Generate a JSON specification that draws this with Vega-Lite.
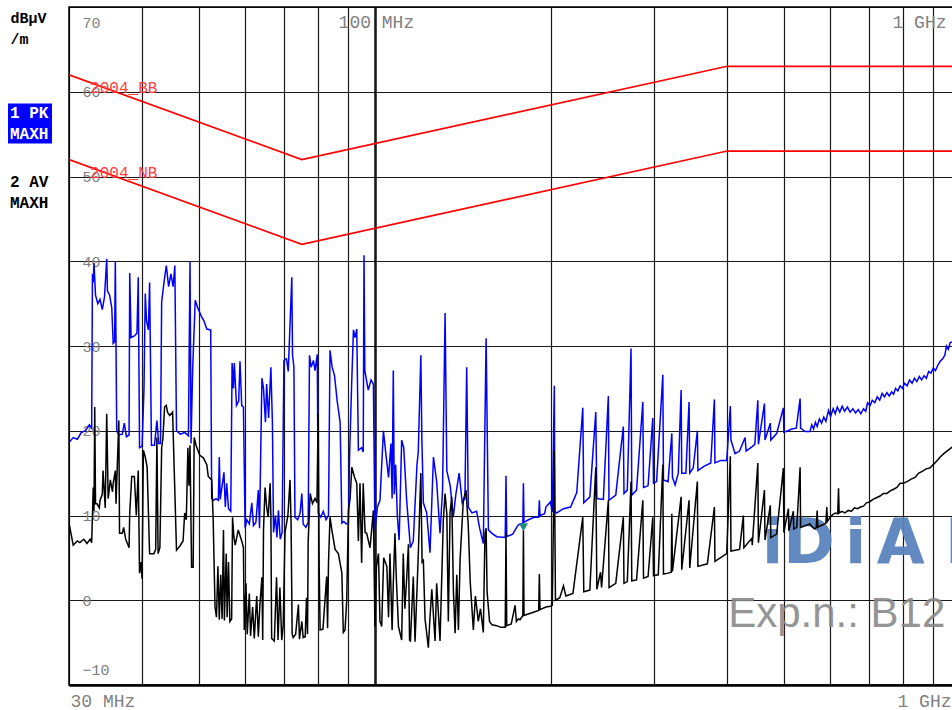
{
  "$schema": "https://vega.github.io/schema/vega-lite/v6.json",
  "width": 891,
  "height": 678,
  "autosize": {"type": "none"},
  "padding": {"left": 69, "top": 7, "right": 0, "bottom": 25},
  "background": "white",
  "config": {"view": {"stroke": "#000000", "strokeWidth": 1.5}},
  "datasets": {
    "limits": [
      {"f": 30, "v": 62, "limit": "BB"}, {"f": 75, "v": 52, "limit": "BB"}, {"f": 400, "v": 63, "limit": "BB"}, {"f": 1000, "v": 63, "limit": "BB"},
      {"f": 30, "v": 52, "limit": "NB"}, {"f": 75, "v": 42, "limit": "NB"}, {"f": 400, "v": 53, "limit": "NB"}, {"f": 1000, "v": 53, "limit": "NB"}
    ],
    "limitLabels": [
      {"f": 32.6, "v": 60, "label": "2004_BB"},
      {"f": 32.6, "v": 50, "label": "2004_NB"}
    ],
    "marker": [{"f": 179.4, "v": 8.6}],
    "logo": [{"f": 458.8, "v": 4.4, "label": "iD\u2006i\u2006A\u2004DA"}],
    "exp": [{"f": 401.5, "v": -3.2, "label": "Exp.n.: B12"}],
    "traces": [
      {"f":30,"v":18.6,"trace":"PK"},{"f":30.5,"v":19.2,"trace":"PK"},{"f":31,"v":19.0,"trace":"PK"},{"f":31.5,"v":19.8,"trace":"PK"},{"f":32,"v":20.0,"trace":"PK"},{"f":32.5,"v":20.7,"trace":"PK"},{"f":32.8,"v":20.3,"trace":"PK"},{"f":32.9,"v":38.5,"trace":"PK"},{"f":33,"v":37.5,"trace":"PK"},{"f":33.1,"v":39.8,"trace":"PK"},{"f":33.3,"v":36.0,"trace":"PK"},{"f":33.6,"v":35.0,"trace":"PK"},{"f":33.9,"v":35.5,"trace":"PK"},{"f":34.2,"v":34.3,"trace":"PK"},{"f":34.5,"v":35.8,"trace":"PK"},{"f":34.8,"v":40.3,"trace":"PK"},{"f":34.9,"v":36.5,"trace":"PK"},{"f":35.2,"v":36.0,"trace":"PK"},{"f":35.5,"v":34.5,"trace":"PK"},{"f":35.7,"v":30.3,"trace":"PK"},{"f":35.9,"v":30.5,"trace":"PK"},{"f":36,"v":40.0,"trace":"PK"},{"f":36.2,"v":20.0,"trace":"PK"},{"f":36.5,"v":19.5,"trace":"PK"},{"f":37,"v":19.6,"trace":"PK"},{"f":37.3,"v":20.9,"trace":"PK"},{"f":37.6,"v":19.3,"trace":"PK"},{"f":38,"v":19.5,"trace":"PK"},{"f":38.1,"v":38.6,"trace":"PK"},{"f":38.3,"v":31.0,"trace":"PK"},{"f":38.8,"v":31.2,"trace":"PK"},{"f":39.2,"v":31.5,"trace":"PK"},{"f":39.4,"v":38.1,"trace":"PK"},{"f":39.6,"v":18.0,"trace":"PK"},{"f":40,"v":18.2,"trace":"PK"},{"f":40.3,"v":25.0,"trace":"PK"},{"f":40.5,"v":36.2,"trace":"PK"},{"f":40.7,"v":33.0,"trace":"PK"},{"f":41,"v":31.9,"trace":"PK"},{"f":41.2,"v":37.5,"trace":"PK"},{"f":41.5,"v":18.3,"trace":"PK"},{"f":42,"v":18.3,"trace":"PK"},{"f":42.4,"v":21.2,"trace":"PK"},{"f":42.7,"v":18.5,"trace":"PK"},{"f":43,"v":18.5,"trace":"PK"},{"f":43.2,"v":35.2,"trace":"PK"},{"f":43.6,"v":37.5,"trace":"PK"},{"f":44,"v":39.5,"trace":"PK"},{"f":44.4,"v":37.0,"trace":"PK"},{"f":44.8,"v":38.5,"trace":"PK"},{"f":45.2,"v":37.0,"trace":"PK"},{"f":45.5,"v":39.5,"trace":"PK"},{"f":45.8,"v":20.0,"trace":"PK"},{"f":46.5,"v":19.6,"trace":"PK"},{"f":47.3,"v":19.8,"trace":"PK"},{"f":48,"v":19.4,"trace":"PK"},{"f":48.3,"v":40.0,"trace":"PK"},{"f":48.5,"v":18.5,"trace":"PK"},{"f":48.8,"v":27.1,"trace":"PK"},{"f":49.3,"v":35.4,"trace":"PK"},{"f":49.8,"v":34.5,"trace":"PK"},{"f":50.5,"v":33.5,"trace":"PK"},{"f":51,"v":33.0,"trace":"PK"},{"f":51.6,"v":32.0,"trace":"PK"},{"f":52.4,"v":31.9,"trace":"PK"},{"f":52.6,"v":12.0,"trace":"PK"},{"f":53,"v":11.8,"trace":"PK"},{"f":53.5,"v":12.0,"trace":"PK"},{"f":54,"v":11.8,"trace":"PK"},{"f":54.2,"v":16.9,"trace":"PK"},{"f":54.4,"v":11.9,"trace":"PK"},{"f":55.2,"v":15.1,"trace":"PK"},{"f":55.5,"v":11.0,"trace":"PK"},{"f":55.8,"v":13.8,"trace":"PK"},{"f":56.2,"v":10.8,"trace":"PK"},{"f":56.7,"v":10.5,"trace":"PK"},{"f":57,"v":28.0,"trace":"PK"},{"f":57.3,"v":25.0,"trace":"PK"},{"f":57.5,"v":28.0,"trace":"PK"},{"f":58,"v":23.0,"trace":"PK"},{"f":58.5,"v":23.5,"trace":"PK"},{"f":58.8,"v":28.2,"trace":"PK"},{"f":59.2,"v":23.0,"trace":"PK"},{"f":59.6,"v":22.8,"trace":"PK"},{"f":60,"v":8.5,"trace":"PK"},{"f":60.4,"v":9.5,"trace":"PK"},{"f":61,"v":9.0,"trace":"PK"},{"f":61.6,"v":11.5,"trace":"PK"},{"f":62,"v":8.8,"trace":"PK"},{"f":62.6,"v":9.2,"trace":"PK"},{"f":63.2,"v":13.0,"trace":"PK"},{"f":63.5,"v":8.5,"trace":"PK"},{"f":64.1,"v":26.2,"trace":"PK"},{"f":64.5,"v":25.0,"trace":"PK"},{"f":65,"v":21.0,"trace":"PK"},{"f":65.3,"v":25.5,"trace":"PK"},{"f":65.8,"v":21.5,"trace":"PK"},{"f":66.4,"v":27.5,"trace":"PK"},{"f":66.8,"v":21.0,"trace":"PK"},{"f":67.1,"v":8.0,"trace":"PK"},{"f":67.6,"v":10.0,"trace":"PK"},{"f":68,"v":7.4,"trace":"PK"},{"f":68.4,"v":10.6,"trace":"PK"},{"f":68.9,"v":7.2,"trace":"PK"},{"f":69.4,"v":8.0,"trace":"PK"},{"f":69.9,"v":28.3,"trace":"PK"},{"f":70.6,"v":28.5,"trace":"PK"},{"f":71.1,"v":27.0,"trace":"PK"},{"f":72.1,"v":38.1,"trace":"PK"},{"f":72.3,"v":29.0,"trace":"PK"},{"f":72.7,"v":27.5,"trace":"PK"},{"f":73,"v":9.8,"trace":"PK"},{"f":73.8,"v":9.5,"trace":"PK"},{"f":74.5,"v":10.3,"trace":"PK"},{"f":75,"v":12.6,"trace":"PK"},{"f":75.4,"v":9.0,"trace":"PK"},{"f":76.2,"v":8.6,"trace":"PK"},{"f":76.9,"v":9.2,"trace":"PK"},{"f":77.3,"v":28.9,"trace":"PK"},{"f":77.8,"v":27.5,"trace":"PK"},{"f":78.5,"v":28.3,"trace":"PK"},{"f":79,"v":27.1,"trace":"PK"},{"f":79.7,"v":29.0,"trace":"PK"},{"f":80,"v":10.3,"trace":"PK"},{"f":80.8,"v":9.8,"trace":"PK"},{"f":81.6,"v":10.5,"trace":"PK"},{"f":82.5,"v":9.5,"trace":"PK"},{"f":83.3,"v":10.0,"trace":"PK"},{"f":83.8,"v":29.5,"trace":"PK"},{"f":84.5,"v":27.5,"trace":"PK"},{"f":85.3,"v":26.5,"trace":"PK"},{"f":86.2,"v":23.5,"trace":"PK"},{"f":87.2,"v":21.0,"trace":"PK"},{"f":87.8,"v":9.1,"trace":"PK"},{"f":88.5,"v":9.3,"trace":"PK"},{"f":89.3,"v":9.0,"trace":"PK"},{"f":90.1,"v":9.1,"trace":"PK"},{"f":90.5,"v":16.9,"trace":"PK"},{"f":91.2,"v":25.0,"trace":"PK"},{"f":91.9,"v":31.9,"trace":"PK"},{"f":92.5,"v":31.0,"trace":"PK"},{"f":93.1,"v":32.0,"trace":"PK"},{"f":93.7,"v":17.7,"trace":"PK"},{"f":94.9,"v":18.0,"trace":"PK"},{"f":95.5,"v":17.5,"trace":"PK"},{"f":95.8,"v":40.7,"trace":"PK"},{"f":96.1,"v":27.1,"trace":"PK"},{"f":97.4,"v":24.8,"trace":"PK"},{"f":98.5,"v":26.0,"trace":"PK"},{"f":99.4,"v":25.5,"trace":"PK"},
      {"f":100,"v":8.3,"trace":"PK"},{"f":101,"v":11.0,"trace":"PK"},{"f":102,"v":11.8,"trace":"PK"},{"f":103.4,"v":20.0,"trace":"PK"},{"f":104.5,"v":17.0,"trace":"PK"},{"f":105.5,"v":14.5,"trace":"PK"},{"f":106.5,"v":18.5,"trace":"PK"},{"f":107,"v":12.0,"trace":"PK"},{"f":107.5,"v":27.1,"trace":"PK"},{"f":107.9,"v":12.5,"trace":"PK"},{"f":108.5,"v":16.0,"trace":"PK"},{"f":109.2,"v":10.0,"trace":"PK"},{"f":110,"v":7.1,"trace":"PK"},{"f":111.1,"v":18.9,"trace":"PK"},{"f":112,"v":18.0,"trace":"PK"},{"f":113.3,"v":11.8,"trace":"PK"},{"f":115,"v":6.2,"trace":"PK"},{"f":116.3,"v":7.0,"trace":"PK"},{"f":118,"v":16.0,"trace":"PK"},{"f":118.6,"v":17.5,"trace":"PK"},{"f":119.8,"v":28.9,"trace":"PK"},{"f":120.3,"v":19.0,"trace":"PK"},{"f":121,"v":11.5,"trace":"PK"},{"f":122.6,"v":10.3,"trace":"PK"},{"f":124.2,"v":5.6,"trace":"PK"},{"f":125.9,"v":16.9,"trace":"PK"},{"f":127.5,"v":14.0,"trace":"PK"},{"f":129.2,"v":7.9,"trace":"PK"},{"f":130.5,"v":13.0,"trace":"PK"},{"f":131.8,"v":33.9,"trace":"PK"},{"f":132.7,"v":15.3,"trace":"PK"},{"f":134.5,"v":13.5,"trace":"PK"},{"f":136.1,"v":9.8,"trace":"PK"},{"f":137.5,"v":12.5,"trace":"PK"},{"f":139.3,"v":15.0,"trace":"PK"},{"f":141,"v":11.5,"trace":"PK"},{"f":142.5,"v":12.0,"trace":"PK"},{"f":143.5,"v":27.5,"trace":"PK"},{"f":144.4,"v":11.0,"trace":"PK"},{"f":146.5,"v":10.3,"trace":"PK"},{"f":149.2,"v":10.5,"trace":"PK"},{"f":151,"v":8.5,"trace":"PK"},{"f":153.2,"v":6.7,"trace":"PK"},{"f":154.9,"v":30.9,"trace":"PK"},{"f":156.3,"v":8.3,"trace":"PK"},{"f":158.5,"v":7.9,"trace":"PK"},{"f":161.5,"v":7.5,"trace":"PK"},{"f":167,"v":7.4,"trace":"PK"},{"f":167.5,"v":14.7,"trace":"PK"},{"f":168,"v":7.5,"trace":"PK"},{"f":172,"v":7.8,"trace":"PK"},{"f":174.7,"v":8.6,"trace":"PK"},{"f":175.9,"v":8.9,"trace":"PK"},{"f":179,"v":9.1,"trace":"PK"},{"f":179.4,"v":13.8,"trace":"PK"},{"f":179.8,"v":9.2,"trace":"PK"},{"f":183,"v":9.5,"trace":"PK"},{"f":187,"v":9.8,"trace":"PK"},{"f":190.5,"v":9.8,"trace":"PK"},{"f":191,"v":11.8,"trace":"PK"},{"f":191.5,"v":10.0,"trace":"PK"},{"f":195,"v":10.2,"trace":"PK"},{"f":196,"v":11.0,"trace":"PK"},{"f":199.5,"v":11.6,"trace":"PK"},{"f":201,"v":10.4,"trace":"PK"},{"f":202.6,"v":25.3,"trace":"PK"},{"f":203,"v":10.5,"trace":"PK"},{"f":204.5,"v":10.3,"trace":"PK"},{"f":210,"v":10.8,"trace":"PK"},{"f":216,"v":11.0,"trace":"PK"},{"f":221.3,"v":12.7,"trace":"PK"},{"f":226.6,"v":22.7,"trace":"PK"},{"f":227.5,"v":11.5,"trace":"PK"},{"f":233,"v":12.2,"trace":"PK"},{"f":238.5,"v":22.2,"trace":"PK"},{"f":239.5,"v":12.0,"trace":"PK"},{"f":245.7,"v":11.9,"trace":"PK"},{"f":250.6,"v":24.1,"trace":"PK"},{"f":251.2,"v":11.8,"trace":"PK"},{"f":258,"v":12.4,"trace":"PK"},{"f":265.8,"v":20.5,"trace":"PK"},{"f":266.5,"v":12.6,"trace":"PK"},{"f":270,"v":13.0,"trace":"PK"},{"f":274,"v":29.7,"trace":"PK"},{"f":274.8,"v":12.4,"trace":"PK"},{"f":280,"v":13.0,"trace":"PK"},{"f":287,"v":23.4,"trace":"PK"},{"f":287.8,"v":13.3,"trace":"PK"},{"f":293,"v":13.5,"trace":"PK"},{"f":298.5,"v":21.5,"trace":"PK"},{"f":299.3,"v":13.8,"trace":"PK"},{"f":303,"v":14.0,"trace":"PK"},{"f":310.5,"v":26.6,"trace":"PK"},{"f":311.3,"v":14.2,"trace":"PK"},{"f":317,"v":14.0,"trace":"PK"},{"f":321.7,"v":19.7,"trace":"PK"},{"f":322.5,"v":14.5,"trace":"PK"},{"f":325.9,"v":13.6,"trace":"PK"},{"f":330,"v":15.0,"trace":"PK"},{"f":333.7,"v":24.8,"trace":"PK"},{"f":334.5,"v":15.0,"trace":"PK"},{"f":340,"v":15.0,"trace":"PK"},{"f":344.3,"v":23.4,"trace":"PK"},{"f":345.2,"v":15.0,"trace":"PK"},{"f":350,"v":15.6,"trace":"PK"},{"f":355.7,"v":20.0,"trace":"PK"},{"f":356.5,"v":15.3,"trace":"PK"},{"f":365,"v":15.8,"trace":"PK"},{"f":375,"v":16.2,"trace":"PK"},{"f":380.4,"v":23.7,"trace":"PK"},{"f":381.2,"v":16.2,"trace":"PK"},{"f":390,"v":16.5,"trace":"PK"},{"f":399.3,"v":16.5,"trace":"PK"},{"f":405,"v":22.9,"trace":"PK"},{"f":406,"v":18.9,"trace":"PK"},{"f":412.6,"v":17.3,"trace":"PK"},{"f":420,"v":17.6,"trace":"PK"},{"f":429.2,"v":19.2,"trace":"PK"},{"f":431,"v":17.6,"trace":"PK"},{"f":440.7,"v":18.1,"trace":"PK"},{"f":446,"v":18.4,"trace":"PK"},{"f":451.3,"v":23.6,"trace":"PK"},{"f":452.3,"v":18.4,"trace":"PK"},{"f":463.2,"v":23.2,"trace":"PK"},{"f":464.2,"v":18.9,"trace":"PK"},{"f":474,"v":20.9,"trace":"PK"},{"f":475,"v":18.9,"trace":"PK"},{"f":486.2,"v":19.7,"trace":"PK"},{"f":499,"v":22.7,"trace":"PK"},{"f":500,"v":19.8,"trace":"PK"},{"f":515.8,"v":20.2,"trace":"PK"},{"f":525,"v":20.3,"trace":"PK"},{"f":533,"v":23.8,"trace":"PK"},{"f":534,"v":20.3,"trace":"PK"},{"f":543.6,"v":19.9,"trace":"PK"},{"f":554,"v":19.9,"trace":"PK"},{"f":558,"v":20.7,"trace":"PK"},{"f":562,"v":20.2,"trace":"PK"},{"f":566,"v":21.0,"trace":"PK"},{"f":570,"v":20.5,"trace":"PK"},{"f":575,"v":21.4,"trace":"PK"},{"f":580,"v":20.9,"trace":"PK"},{"f":585,"v":21.6,"trace":"PK"},{"f":590,"v":21.1,"trace":"PK"},{"f":596,"v":22.4,"trace":"PK"},{"f":601,"v":21.7,"trace":"PK"},{"f":607,"v":22.6,"trace":"PK"},{"f":612,"v":22.0,"trace":"PK"},{"f":617,"v":22.8,"trace":"PK"},{"f":623,"v":22.2,"trace":"PK"},{"f":629,"v":22.9,"trace":"PK"},{"f":635,"v":22.3,"trace":"PK"},{"f":642,"v":22.8,"trace":"PK"},{"f":649,"v":22.2,"trace":"PK"},{"f":656,"v":22.6,"trace":"PK"},{"f":663,"v":22.1,"trace":"PK"},{"f":670,"v":22.5,"trace":"PK"},{"f":677,"v":22.0,"trace":"PK"},{"f":684,"v":22.6,"trace":"PK"},{"f":690,"v":22.3,"trace":"PK"},{"f":695,"v":23.3,"trace":"PK"},{"f":702,"v":23.0,"trace":"PK"},{"f":708,"v":23.6,"trace":"PK"},{"f":715,"v":23.3,"trace":"PK"},{"f":722,"v":24.0,"trace":"PK"},{"f":729,"v":23.6,"trace":"PK"},{"f":736,"v":24.4,"trace":"PK"},{"f":743,"v":24.0,"trace":"PK"},{"f":750,"v":24.5,"trace":"PK"},{"f":757,"v":24.1,"trace":"PK"},{"f":764,"v":24.6,"trace":"PK"},{"f":770,"v":24.3,"trace":"PK"},{"f":776,"v":25.0,"trace":"PK"},{"f":783,"v":24.7,"trace":"PK"},{"f":790,"v":25.3,"trace":"PK"},{"f":797,"v":25.0,"trace":"PK"},{"f":804,"v":25.6,"trace":"PK"},{"f":812,"v":25.3,"trace":"PK"},{"f":820,"v":26.0,"trace":"PK"},{"f":828,"v":25.6,"trace":"PK"},{"f":836,"v":26.2,"trace":"PK"},{"f":844,"v":25.8,"trace":"PK"},{"f":852,"v":26.4,"trace":"PK"},{"f":860,"v":26.0,"trace":"PK"},{"f":868,"v":26.5,"trace":"PK"},{"f":876,"v":26.2,"trace":"PK"},{"f":884,"v":27.0,"trace":"PK"},{"f":892,"v":26.8,"trace":"PK"},{"f":900,"v":27.4,"trace":"PK"},{"f":908,"v":27.1,"trace":"PK"},{"f":916,"v":27.7,"trace":"PK"},{"f":925,"v":28.2,"trace":"PK"},{"f":934,"v":28.5,"trace":"PK"},{"f":942,"v":28.9,"trace":"PK"},{"f":948,"v":30.0,"trace":"PK"},{"f":955,"v":29.6,"trace":"PK"},{"f":962,"v":30.4,"trace":"PK"},{"f":980,"v":30.6,"trace":"PK"},{"f":1000,"v":31.0,"trace":"PK"},
      {"f":30,"v":9.0,"trace":"AV"},{"f":30.1,"v":8.6,"trace":"AV"},{"f":30.5,"v":6.5,"trace":"AV"},{"f":31,"v":7.0,"trace":"AV"},{"f":31.3,"v":6.8,"trace":"AV"},{"f":31.8,"v":7.2,"trace":"AV"},{"f":32.2,"v":6.7,"trace":"AV"},{"f":32.6,"v":7.2,"trace":"AV"},{"f":32.8,"v":6.8,"trace":"AV"},{"f":33,"v":13.3,"trace":"AV"},{"f":33.1,"v":10.5,"trace":"AV"},{"f":33.2,"v":22.8,"trace":"AV"},{"f":33.3,"v":11.4,"trace":"AV"},{"f":33.5,"v":11.4,"trace":"AV"},{"f":33.8,"v":10.9,"trace":"AV"},{"f":33.9,"v":11.8,"trace":"AV"},{"f":34.2,"v":12.5,"trace":"AV"},{"f":34.3,"v":15.3,"trace":"AV"},{"f":34.6,"v":10.9,"trace":"AV"},{"f":34.8,"v":22.0,"trace":"AV"},{"f":35,"v":12.0,"trace":"AV"},{"f":35.3,"v":14.2,"trace":"AV"},{"f":35.6,"v":12.8,"trace":"AV"},{"f":35.7,"v":13.8,"trace":"AV"},{"f":36,"v":15.3,"trace":"AV"},{"f":36.1,"v":11.4,"trace":"AV"},{"f":36.5,"v":21.2,"trace":"AV"},{"f":36.6,"v":7.9,"trace":"AV"},{"f":37,"v":7.9,"trace":"AV"},{"f":37.2,"v":8.6,"trace":"AV"},{"f":37.5,"v":7.2,"trace":"AV"},{"f":37.8,"v":6.6,"trace":"AV"},{"f":38,"v":6.2,"trace":"AV"},{"f":38.1,"v":10.3,"trace":"AV"},{"f":38.4,"v":14.6,"trace":"AV"},{"f":38.8,"v":14.6,"trace":"AV"},{"f":39.1,"v":10.0,"trace":"AV"},{"f":39.4,"v":15.3,"trace":"AV"},{"f":39.6,"v":3.2,"trace":"AV"},{"f":39.8,"v":4.5,"trace":"AV"},{"f":40,"v":2.5,"trace":"AV"},{"f":40.2,"v":17.7,"trace":"AV"},{"f":40.5,"v":16.9,"trace":"AV"},{"f":40.8,"v":15.7,"trace":"AV"},{"f":41.2,"v":5.5,"trace":"AV"},{"f":41.9,"v":5.5,"trace":"AV"},{"f":42.2,"v":6.0,"trace":"AV"},{"f":42.4,"v":19.2,"trace":"AV"},{"f":42.6,"v":5.5,"trace":"AV"},{"f":42.9,"v":6.2,"trace":"AV"},{"f":43.2,"v":18.0,"trace":"AV"},{"f":43.4,"v":19.0,"trace":"AV"},{"f":43.7,"v":22.8,"trace":"AV"},{"f":44,"v":23.0,"trace":"AV"},{"f":44.2,"v":22.2,"trace":"AV"},{"f":44.6,"v":21.8,"trace":"AV"},{"f":45.1,"v":22.2,"trace":"AV"},{"f":45.8,"v":5.9,"trace":"AV"},{"f":46.4,"v":6.4,"trace":"AV"},{"f":47,"v":7.0,"trace":"AV"},{"f":47.3,"v":10.3,"trace":"AV"},{"f":47.6,"v":9.5,"trace":"AV"},{"f":47.9,"v":18.0,"trace":"AV"},{"f":48.1,"v":13.5,"trace":"AV"},{"f":48.3,"v":18.3,"trace":"AV"},{"f":48.6,"v":3.9,"trace":"AV"},{"f":48.9,"v":3.9,"trace":"AV"},{"f":49.1,"v":19.2,"trace":"AV"},{"f":49.5,"v":18.2,"trace":"AV"},{"f":50.2,"v":17.1,"trace":"AV"},{"f":50.9,"v":16.8,"trace":"AV"},{"f":51.6,"v":16.0,"trace":"AV"},{"f":51.9,"v":14.6,"trace":"AV"},{"f":52.6,"v":14.2,"trace":"AV"},{"f":52.9,"v":9.8,"trace":"AV"},{"f":53.3,"v":-0.8,"trace":"AV"},{"f":53.6,"v":-2.0,"trace":"AV"},{"f":53.9,"v":4.0,"trace":"AV"},{"f":54.2,"v":-2.3,"trace":"AV"},
      {"f":54.5,"v":3.0,"trace":"AV"},{"f":54.8,"v":-2.2,"trace":"AV"},{"f":55.1,"v":8.3,"trace":"AV"},{"f":55.3,"v":-2.4,"trace":"AV"},{"f":55.7,"v":5.5,"trace":"AV"},{"f":55.9,"v":-2.0,"trace":"AV"},{"f":56.2,"v":4.5,"trace":"AV"},{"f":56.5,"v":-2.5,"trace":"AV"},{"f":56.9,"v":-2.2,"trace":"AV"},{"f":57.1,"v":9.8,"trace":"AV"},{"f":57.4,"v":7.5,"trace":"AV"},{"f":57.7,"v":6.5,"trace":"AV"},{"f":58.4,"v":8.3,"trace":"AV"},{"f":59.2,"v":7.0,"trace":"AV"},{"f":59.6,"v":6.2,"trace":"AV"},{"f":59.8,"v":-3.5,"trace":"AV"},{"f":60.2,"v":2.0,"trace":"AV"},{"f":60.5,"v":-4.0,"trace":"AV"},{"f":61,"v":0.8,"trace":"AV"},{"f":61.3,"v":-4.2,"trace":"AV"},{"f":61.8,"v":-0.8,"trace":"AV"},{"f":62.2,"v":-4.5,"trace":"AV"},{"f":62.8,"v":0.5,"trace":"AV"},{"f":63.2,"v":-4.3,"trace":"AV"},{"f":63.6,"v":-0.5,"trace":"AV"},{"f":64.1,"v":2.7,"trace":"AV"},{"f":64.3,"v":-4.7,"trace":"AV"},{"f":64.5,"v":8.3,"trace":"AV"},{"f":64.9,"v":13.3,"trace":"AV"},{"f":65.3,"v":11.0,"trace":"AV"},{"f":65.7,"v":9.8,"trace":"AV"},{"f":66.2,"v":13.8,"trace":"AV"},{"f":66.4,"v":10.0,"trace":"AV"},{"f":66.6,"v":-4.5,"trace":"AV"},{"f":67.3,"v":-4.8,"trace":"AV"},{"f":67.9,"v":2.7,"trace":"AV"},{"f":68.3,"v":-4.7,"trace":"AV"},{"f":68.8,"v":1.5,"trace":"AV"},{"f":69.3,"v":-4.7,"trace":"AV"},{"f":69.7,"v":-3.0,"trace":"AV"},{"f":70.2,"v":8.0,"trace":"AV"},{"f":71,"v":10.0,"trace":"AV"},{"f":71.6,"v":14.2,"trace":"AV"},{"f":71.9,"v":9.0,"trace":"AV"},{"f":72.2,"v":-4.0,"trace":"AV"},{"f":72.5,"v":-4.4,"trace":"AV"},{"f":73.2,"v":-4.0,"trace":"AV"},{"f":74,"v":-0.5,"trace":"AV"},{"f":74.3,"v":-4.6,"trace":"AV"},{"f":75,"v":-2.5,"trace":"AV"},{"f":75.4,"v":-4.4,"trace":"AV"},{"f":76,"v":-4.3,"trace":"AV"},{"f":76.4,"v":0.3,"trace":"AV"},{"f":76.7,"v":-4.0,"trace":"AV"},{"f":76.9,"v":7.0,"trace":"AV"},{"f":77.5,"v":12.6,"trace":"AV"},{"f":78.2,"v":11.4,"trace":"AV"},{"f":79,"v":12.0,"trace":"AV"},{"f":79.6,"v":11.5,"trace":"AV"},{"f":80,"v":22.0,"trace":"AV"},{"f":80.3,"v":4.0,"trace":"AV"},{"f":80.6,"v":-3.5,"trace":"AV"},{"f":81.5,"v":-3.4,"trace":"AV"},{"f":82.7,"v":2.8,"trace":"AV"},{"f":83,"v":-3.3,"trace":"AV"},{"f":83.3,"v":4.4,"trace":"AV"},{"f":83.8,"v":9.8,"trace":"AV"},{"f":84.4,"v":8.3,"trace":"AV"},{"f":85.5,"v":6.0,"trace":"AV"},{"f":86.6,"v":5.5,"trace":"AV"},{"f":87.8,"v":3.2,"trace":"AV"},{"f":88.3,"v":-3.8,"trace":"AV"},{"f":88.9,"v":-3.5,"trace":"AV"},{"f":89.5,"v":0.0,"trace":"AV"},{"f":90.1,"v":10.6,"trace":"AV"},{"f":90.7,"v":12.0,"trace":"AV"},{"f":91.3,"v":15.7,"trace":"AV"},{"f":92.2,"v":14.6,"trace":"AV"},{"f":93.1,"v":13.8,"trace":"AV"},{"f":93.7,"v":7.0,"trace":"AV"},{"f":94.3,"v":13.8,"trace":"AV"},{"f":94.9,"v":4.4,"trace":"AV"},{"f":95.5,"v":13.8,"trace":"AV"},{"f":96.2,"v":8.0,"trace":"AV"},{"f":96.8,"v":7.9,"trace":"AV"},{"f":98.1,"v":6.2,"trace":"AV"},
      {"f":99.4,"v":10.6,"trace":"AV"},{"f":100,"v":-3.1,"trace":"AV"},{"f":100.6,"v":4.0,"trace":"AV"},{"f":101.4,"v":5.5,"trace":"AV"},{"f":102,"v":-2.5,"trace":"AV"},{"f":102.7,"v":-3.1,"trace":"AV"},{"f":103.5,"v":5.0,"trace":"AV"},{"f":104.8,"v":4.0,"trace":"AV"},{"f":105.5,"v":-2.0,"trace":"AV"},{"f":106.1,"v":5.5,"trace":"AV"},{"f":107,"v":-3.5,"trace":"AV"},{"f":107.5,"v":2.0,"trace":"AV"},{"f":108.2,"v":7.9,"trace":"AV"},{"f":108.8,"v":2.5,"trace":"AV"},{"f":109.7,"v":-3.1,"trace":"AV"},{"f":111.1,"v":-4.7,"trace":"AV"},{"f":111.8,"v":5.5,"trace":"AV"},{"f":112.5,"v":-1.0,"trace":"AV"},{"f":113.3,"v":2.5,"trace":"AV"},{"f":114.1,"v":6.6,"trace":"AV"},{"f":114.6,"v":-4.7,"trace":"AV"},{"f":115,"v":-4.8,"trace":"AV"},{"f":116.3,"v":2.8,"trace":"AV"},{"f":117.1,"v":-4.9,"trace":"AV"},{"f":118.6,"v":5.3,"trace":"AV"},{"f":119.8,"v":15.0,"trace":"AV"},{"f":120.4,"v":4.5,"trace":"AV"},{"f":121,"v":4.7,"trace":"AV"},{"f":121.8,"v":-2.2,"trace":"AV"},{"f":123.4,"v":-5.6,"trace":"AV"},{"f":124.2,"v":-2.0,"trace":"AV"},{"f":125.1,"v":1.3,"trace":"AV"},{"f":126.7,"v":-4.8,"trace":"AV"},{"f":127.5,"v":2.0,"trace":"AV"},{"f":129.2,"v":-4.8,"trace":"AV"},{"f":130.9,"v":9.5,"trace":"AV"},{"f":131.8,"v":12.6,"trace":"AV"},{"f":132.7,"v":10.2,"trace":"AV"},{"f":133.5,"v":-2.5,"trace":"AV"},{"f":134.4,"v":10.3,"trace":"AV"},{"f":135.3,"v":12.2,"trace":"AV"},{"f":136.2,"v":1.0,"trace":"AV"},{"f":137.1,"v":-3.9,"trace":"AV"},{"f":138,"v":3.0,"trace":"AV"},{"f":138.9,"v":-3.5,"trace":"AV"},{"f":139.8,"v":4.7,"trace":"AV"},{"f":141.6,"v":11.8,"trace":"AV"},{"f":143.1,"v":13.0,"trace":"AV"},{"f":144.4,"v":8.8,"trace":"AV"},{"f":145.5,"v":2.2,"trace":"AV"},{"f":147.3,"v":-3.5,"trace":"AV"},{"f":148.5,"v":0.5,"trace":"AV"},{"f":150.2,"v":-2.5,"trace":"AV"},{"f":151.5,"v":-1.0,"trace":"AV"},{"f":153.2,"v":-3.8,"trace":"AV"},{"f":154.2,"v":7.9,"trace":"AV"},{"f":154.9,"v":8.5,"trace":"AV"},{"f":155.5,"v":1.0,"trace":"AV"},{"f":157,"v":-2.5,"trace":"AV"},{"f":158.5,"v":-2.9,"trace":"AV"},{"f":161.5,"v":-3.0,"trace":"AV"},{"f":164,"v":-3.2,"trace":"AV"},{"f":167,"v":-3.2,"trace":"AV"},{"f":167.5,"v":8.0,"trace":"AV"},{"f":168,"v":-3.0,"trace":"AV"},{"f":171,"v":-2.8,"trace":"AV"},{"f":173.6,"v":-0.6,"trace":"AV"},{"f":174.5,"v":-2.5,"trace":"AV"},{"f":175.9,"v":-2.2,"trace":"AV"},
      {"f":177,"v":-2.3,"trace":"AV"},{"f":179,"v":-1.8,"trace":"AV"},{"f":179.4,"v":8.3,"trace":"AV"},{"f":179.8,"v":-1.8,"trace":"AV"},{"f":185,"v":-1.5,"trace":"AV"},{"f":190.5,"v":-1.2,"trace":"AV"},{"f":191,"v":3.1,"trace":"AV"},{"f":191.5,"v":-1.1,"trace":"AV"},{"f":196,"v":-0.8,"trace":"AV"},{"f":199.5,"v":-0.7,"trace":"AV"},{"f":201,"v":-0.6,"trace":"AV"},{"f":202.6,"v":17.7,"trace":"AV"},{"f":203.5,"v":0.0,"trace":"AV"},{"f":207,"v":0.3,"trace":"AV"},{"f":210,"v":1.7,"trace":"AV"},{"f":212,"v":0.5,"trace":"AV"},{"f":218,"v":0.8,"trace":"AV"},{"f":226.6,"v":9.8,"trace":"AV"},{"f":227.5,"v":1.0,"trace":"AV"},{"f":233,"v":1.2,"trace":"AV"},{"f":238.5,"v":15.7,"trace":"AV"},{"f":239.5,"v":1.3,"trace":"AV"},{"f":243,"v":3.3,"trace":"AV"},{"f":244,"v":1.5,"trace":"AV"},{"f":250.6,"v":11.8,"trace":"AV"},{"f":251.3,"v":1.5,"trace":"AV"},{"f":258,"v":2.0,"trace":"AV"},{"f":265.8,"v":9.8,"trace":"AV"},{"f":266.5,"v":2.0,"trace":"AV"},{"f":270,"v":2.2,"trace":"AV"},{"f":274,"v":14.0,"trace":"AV"},{"f":274.8,"v":2.3,"trace":"AV"},{"f":280,"v":2.4,"trace":"AV"},{"f":287,"v":11.8,"trace":"AV"},{"f":287.8,"v":2.6,"trace":"AV"},{"f":293,"v":2.8,"trace":"AV"},{"f":298.5,"v":9.8,"trace":"AV"},{"f":299.3,"v":2.9,"trace":"AV"},{"f":305,"v":3.0,"trace":"AV"},{"f":310.5,"v":16.0,"trace":"AV"},{"f":311.3,"v":3.1,"trace":"AV"},{"f":317,"v":3.2,"trace":"AV"},
      {"f":321,"v":3.3,"trace":"AV"},{"f":321.7,"v":10.2,"trace":"AV"},{"f":322.5,"v":3.4,"trace":"AV"},{"f":333.7,"v":12.2,"trace":"AV"},{"f":334.5,"v":3.6,"trace":"AV"},{"f":344.3,"v":11.8,"trace":"AV"},{"f":345.2,"v":3.8,"trace":"AV"},{"f":355.7,"v":14.0,"trace":"AV"},{"f":356.5,"v":4.0,"trace":"AV"},{"f":370,"v":4.3,"trace":"AV"},{"f":380.4,"v":11.0,"trace":"AV"},{"f":381.2,"v":4.6,"trace":"AV"},{"f":399.3,"v":5.5,"trace":"AV"},{"f":405,"v":17.0,"trace":"AV"},{"f":406,"v":5.8,"trace":"AV"},{"f":420,"v":6.0,"trace":"AV"},{"f":426.3,"v":10.0,"trace":"AV"},{"f":427.2,"v":6.2,"trace":"AV"},{"f":440.7,"v":7.3,"trace":"AV"},{"f":441.5,"v":6.5,"trace":"AV"},{"f":451.3,"v":16.2,"trace":"AV"},{"f":452.3,"v":6.8,"trace":"AV"},{"f":463.2,"v":13.0,"trace":"AV"},{"f":464.2,"v":7.1,"trace":"AV"},{"f":474,"v":11.2,"trace":"AV"},{"f":475,"v":7.4,"trace":"AV"},{"f":486,"v":7.8,"trace":"AV"},{"f":499,"v":15.6,"trace":"AV"},{"f":500,"v":8.0,"trace":"AV"},{"f":509,"v":10.8,"trace":"AV"},{"f":509.8,"v":8.2,"trace":"AV"},{"f":519,"v":10.5,"trace":"AV"},{"f":519.8,"v":8.4,"trace":"AV"},{"f":526,"v":8.6,"trace":"AV"},{"f":533,"v":15.7,"trace":"AV"},{"f":534,"v":8.6,"trace":"AV"},
      {"f":554,"v":9.0,"trace":"AV"},{"f":560,"v":8.6,"trace":"AV"},{"f":565,"v":8.4,"trace":"AV"},{"f":568,"v":8.6,"trace":"AV"},{"f":570,"v":10.6,"trace":"AV"},{"f":571.5,"v":8.6,"trace":"AV"},{"f":577,"v":8.8,"trace":"AV"},{"f":583,"v":8.9,"trace":"AV"},{"f":590,"v":9.1,"trace":"AV"},{"f":592,"v":11.0,"trace":"AV"},{"f":593.5,"v":9.3,"trace":"AV"},{"f":600,"v":9.8,"trace":"AV"},{"f":606,"v":10.1,"trace":"AV"},{"f":612,"v":10.3,"trace":"AV"},{"f":618,"v":10.2,"trace":"AV"},{"f":620,"v":13.2,"trace":"AV"},{"f":621.5,"v":10.3,"trace":"AV"},{"f":628,"v":10.5,"trace":"AV"},{"f":636,"v":10.3,"trace":"AV"},{"f":644,"v":10.6,"trace":"AV"},{"f":652,"v":10.5,"trace":"AV"},{"f":660,"v":10.9,"trace":"AV"},{"f":668,"v":10.8,"trace":"AV"},{"f":676,"v":11.0,"trace":"AV"},{"f":684,"v":11.1,"trace":"AV"},{"f":692,"v":11.5,"trace":"AV"},{"f":700,"v":11.6,"trace":"AV"},{"f":710,"v":11.9,"trace":"AV"},{"f":720,"v":12.1,"trace":"AV"},{"f":730,"v":12.3,"trace":"AV"},{"f":740,"v":12.6,"trace":"AV"},{"f":750,"v":12.6,"trace":"AV"},{"f":760,"v":12.9,"trace":"AV"},{"f":770,"v":13.1,"trace":"AV"},{"f":780,"v":13.3,"trace":"AV"},{"f":790,"v":13.8,"trace":"AV"},{"f":800,"v":13.8,"trace":"AV"},{"f":812,"v":14.0,"trace":"AV"},{"f":825,"v":14.3,"trace":"AV"},{"f":838,"v":14.5,"trace":"AV"},{"f":850,"v":15.0,"trace":"AV"},{"f":862,"v":15.2,"trace":"AV"},{"f":875,"v":15.5,"trace":"AV"},{"f":888,"v":15.6,"trace":"AV"},{"f":900,"v":16.0,"trace":"AV"},{"f":912,"v":16.4,"trace":"AV"},{"f":925,"v":16.9,"trace":"AV"},{"f":938,"v":17.3,"trace":"AV"},{"f":950,"v":17.6,"trace":"AV"},{"f":962,"v":17.9,"trace":"AV"},{"f":980,"v":18.3,"trace":"AV"},{"f":1000,"v":18.6,"trace":"AV"}
    ]
  },
  "encoding": {
    "x": {"field": "f", "type": "quantitative", "scale": {"type": "log", "domain": [30, 1000], "nice": false}, "axis": null},
    "y": {"field": "v", "type": "quantitative", "scale": {"domain": [-10, 70], "nice": false, "zero": false}, "axis": null}
  },
  "resolve": {"axis": {"x": "independent", "y": "independent"}},
  "layer": [
    {
      "data": {"name": "limits"},
      "mark": {"type": "line", "color": "#ff0000", "strokeWidth": 1.6, "clip": true},
      "encoding": {
        "x": {
          "field": "f", "type": "quantitative",
          "scale": {"type": "log", "domain": [30, 1000], "nice": false},
          "axis": {
            "orient": "top", "values": [100, 1000], "grid": false, "ticks": false, "tickSize": 0, "domain": false,
            "labelExpr": "datum.value == 100 ? '100 MHz' : '1 GHz'",
            "labelAlign": {"condition": {"test": "datum.value == 100", "value": "center"}, "value": "right"},
            "labelOffset": {"condition": {"test": "datum.value == 100", "value": 1}, "value": -14},
            "labelBaseline": "middle", "labelPadding": -15, "labelOverlap": false, "labelBound": false,
            "labelFont": "Liberation Mono", "labelFontSize": 18, "labelColor": "#808080", "title": null
          }
        },
        "y": {"field": "v", "type": "quantitative", "scale": {"domain": [-10, 70], "nice": false, "zero": false}, "axis": null},
        "detail": {"field": "limit"}
      }
    },
    {
      "data": {"name": "limitLabels"},
      "mark": {"type": "text", "align": "left", "baseline": "alphabetic", "dy": 1, "font": "Liberation Mono", "fontSize": 16, "color": "#ff4040"},
      "encoding": {"text": {"field": "label"}}
    },
    {
      "data": {"name": "logo"},
      "mark": {"type": "text", "align": "left", "baseline": "alphabetic", "font": "DejaVu Sans", "fontWeight": "bold", "fontSize": 62, "color": "#5a84bd", "opacity": 0.95},
      "encoding": {"text": {"field": "label"}}
    },
    {
      "data": {"name": "exp"},
      "mark": {"type": "text", "align": "left", "baseline": "alphabetic", "font": "Liberation Sans", "fontSize": 42, "color": "#8a8a8a", "opacity": 0.9},
      "encoding": {"text": {"field": "label"}}
    },
    {
      "data": {"name": "traces"},
      "transform": [{"filter": "datum.trace == 'PK'"}],
      "mark": {"type": "line", "strokeWidth": 1.5, "clip": true},
      "encoding": {
        "x": {
          "field": "f", "type": "quantitative",
          "scale": {"type": "log", "domain": [30, 1000], "nice": false},
          "axis": {
            "orient": "bottom", "values": [30, 40, 50, 60, 70, 80, 90, 100, 200, 300, 400, 500, 600, 700, 800, 900, 1000],
            "grid": true, "gridColor": "#000000", "gridOpacity": 0.9,
            "gridWidth": {"condition": {"test": "datum.value == 100", "value": 2.6}, "value": 1.2},
            "ticks": false, "tickSize": 0, "domain": true, "domainColor": "#000000", "domainWidth": 2.5,
            "labelExpr": "datum.value == 30 ? '30 MHz' : datum.value == 1000 ? '1 GHz' : ''",
            "labelAlign": {"condition": {"test": "datum.value == 30", "value": "left"}, "value": "right"},
            "labelOffset": {"condition": {"test": "datum.value == 30", "value": 1}, "value": -9},
            "labelBaseline": "middle", "labelPadding": 16, "labelOverlap": false, "labelBound": false,
            "labelFont": "Liberation Mono", "labelFontSize": 18, "labelColor": "#808080", "title": null
          }
        },
        "y": {
          "field": "v", "type": "quantitative",
          "scale": {"domain": [-10, 70], "nice": false, "zero": false},
          "axis": {
            "orient": "left", "values": [-10, 0, 10, 20, 30, 40, 50, 60, 70],
            "grid": true, "gridColor": "#000000", "gridOpacity": 0.9, "gridWidth": 1.2,
            "ticks": false, "tickSize": 0, "domain": false,
            "labelAlign": "left", "labelPadding": -13, "labelFlush": true, "labelFlushOffset": -8, "labelOverlap": false,
            "labelFont": "Liberation Mono", "labelFontSize": 15, "labelColor": "#808080",
            "title": ["dBµV", "/m"], "titleAngle": 0, "titleAlign": "left", "titleBaseline": "alphabetic",
            "titleX": -59, "titleY": 15, "titleFont": "Liberation Mono", "titleFontSize": 15, "titleFontWeight": "bold",
            "titleColor": "#000000", "titleLineHeight": 21
          }
        },
        "color": {
          "field": "trace", "type": "nominal",
          "scale": {"domain": ["PK", "AV"], "range": ["#0000ff", "#000000"]},
          "legend": {
            "orient": "none", "legendX": -59, "legendY": 96.5, "title": null, "padding": 0,
            "symbolType": "M-1.1,-1H1.1V1H-1.1Z", "symbolSize": 1600, "symbolStrokeWidth": 0,
            "labelFont": "Liberation Mono", "labelFontSize": 16, "labelFontWeight": "bold",
            "labelOffset": -40, "labelAlign": "left", "labelBaseline": "middle",
            "labelExpr": "datum.value == 'PK' ? ['1 PK', 'MAXH'] : ['2 AV', 'MAXH']",
            "rowPadding": 29,
            "encode": {
              "symbols": {"update": {"fill": {"signal": "datum.value == 'PK' ? '#0000ff' : 'transparent'"}, "stroke": {"value": "transparent"}, "opacity": {"value": 1}}},
              "labels": {"update": {"fill": {"signal": "datum.value == 'PK' ? '#ffffff' : '#000000'"}, "lineHeight": {"value": 21}, "dy": {"value": -10.5}}}
            }
          }
        }
      }
    },
    {
      "data": {"name": "traces"},
      "transform": [{"filter": "datum.trace == 'AV'"}],
      "mark": {"type": "line", "strokeWidth": 1.5, "clip": true},
      "encoding": {
        "color": {
          "field": "trace", "type": "nominal",
          "scale": {"domain": ["PK", "AV"], "range": ["#0000ff", "#000000"]},
          "legend": {
            "orient": "none", "legendX": -59, "legendY": 96.5, "title": null, "padding": 0,
            "symbolType": "M-1.1,-1H1.1V1H-1.1Z", "symbolSize": 1600, "symbolStrokeWidth": 0,
            "labelFont": "Liberation Mono", "labelFontSize": 16, "labelFontWeight": "bold",
            "labelOffset": -40, "labelAlign": "left", "labelBaseline": "middle",
            "labelExpr": "datum.value == 'PK' ? ['1 PK', 'MAXH'] : ['2 AV', 'MAXH']",
            "rowPadding": 29,
            "encode": {
              "symbols": {"update": {"fill": {"signal": "datum.value == 'PK' ? '#0000ff' : 'transparent'"}, "stroke": {"value": "transparent"}, "opacity": {"value": 1}}},
              "labels": {"update": {"fill": {"signal": "datum.value == 'PK' ? '#ffffff' : '#000000'"}, "lineHeight": {"value": 21}, "dy": {"value": -10.5}}}
            }
          }
        }
      }
    },
    {
      "data": {"name": "marker"},
      "mark": {"type": "point", "shape": "triangle-down", "filled": true, "size": 85, "color": "#1e8c7e", "opacity": 1}
    }
  ]
}
